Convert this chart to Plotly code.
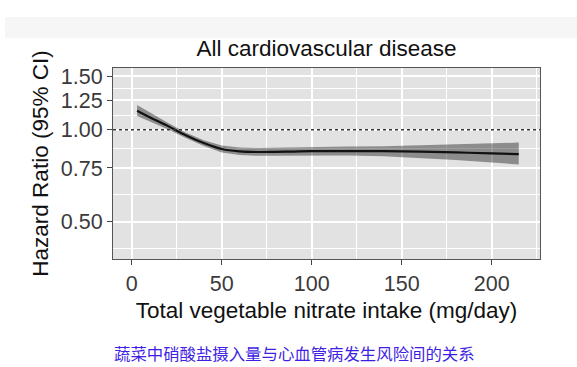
import plotly.graph_objects as go

# ---- data ----
intake = [3, 10, 20, 30, 40, 50, 60, 70, 80, 90, 100, 120, 140, 160, 180, 200, 215]
hr = [1.155, 1.10, 1.03, 0.96, 0.905, 0.865, 0.85, 0.846, 0.847, 0.849, 0.851,
      0.852, 0.851, 0.848, 0.843, 0.837, 0.832]
hr_upper = [1.206, 1.14, 1.055, 0.98, 0.925, 0.888, 0.875, 0.872, 0.873, 0.876,
            0.878, 0.881, 0.884, 0.889, 0.895, 0.902, 0.908]
hr_lower = [1.11, 1.065, 1.005, 0.94, 0.885, 0.843, 0.827, 0.822, 0.822, 0.823,
            0.825, 0.824, 0.82, 0.81, 0.797, 0.782, 0.77]

x_ticks = [0, 50, 100, 150, 200]
x_minor = [25, 75, 125, 175, 225]
y_ticks = [0.50, 0.75, 1.00, 1.25, 1.50]
y_ticktext = ["0.50", "0.75", "1.00", "1.25", "1.50"]
y_minor = [0.408, 0.612, 0.866, 1.118, 1.369]
ref_hr = 1.0

title_text = "All cardiovascular disease"
x_title = "Total vegetable nitrate intake (mg/day)"
y_title = "Hazard Ratio (95% CI)"
caption = "蔬菜中硝酸盐摄入量与心血管病发生风险间的关系"

W, H = 577, 367
ML, MR, MT, MB = 113, 37, 68, 108
PW, PH = W - ML - MR, H - MT - MB

def px_x(p):
    return (p - ML) / PW

def px_y(p):
    return (H - MB - p) / PH

fig = go.Figure()
fig.add_trace(go.Scatter(x=intake, y=hr_upper, mode="lines", line=dict(width=0),
                         showlegend=False, hoverinfo="skip"))
fig.add_trace(go.Scatter(x=intake, y=hr_lower, mode="lines", line=dict(width=0),
                         fill="tonexty", fillcolor="rgba(0,0,0,0.38)",
                         showlegend=False, hoverinfo="skip"))
fig.add_trace(go.Scatter(x=intake, y=hr, mode="lines",
                         line=dict(color="#111111", width=2.2, shape="spline"),
                         showlegend=False))

# light band at the very top of the picture
fig.add_shape(type="rect", xref="paper", yref="paper",
              x0=px_x(5), x1=px_x(577), y0=px_y(38), y1=px_y(17),
              fillcolor="#f6f6f6", line=dict(width=0), layer="below")
# reference line at HR = 1
fig.add_shape(type="line", xref="paper", yref="y", x0=0, x1=1, y0=ref_hr, y1=ref_hr,
              line=dict(color="#333333", width=1.6, dash="dot"), layer="above")

tick_font = dict(family="Liberation Sans, Arial, sans-serif", size=21.5, color="#3a3a3a")
title_font = dict(family="Liberation Sans, Arial, sans-serif", size=22.5, color="#111111")

fig.update_layout(
    width=W, height=H,
    margin=dict(l=ML, r=MR, t=MT, b=MB, pad=0),
    paper_bgcolor="white", plot_bgcolor="#e2e2e2",
    title=dict(text=title_text, x=0.5, xref="paper", xanchor="center",
               y=1 - 48 / H, yref="container", yanchor="middle",
               font=dict(family="Liberation Sans, Arial, sans-serif", size=22.5, color="#111111")),
    xaxis=dict(range=[-10.4, 226.8], tickvals=x_ticks, ticks="outside", ticklen=5,
               tickwidth=1, tickcolor="#444444", showline=True, mirror=True,
               linecolor="#555555", linewidth=1, showgrid=True, gridcolor="white",
               gridwidth=2, zeroline=False, tickfont=tick_font,
               minor=dict(tickvals=x_minor, showgrid=True, gridcolor="white",
                          gridwidth=1, ticks=""),
               title=dict(text=x_title, font=title_font, standoff=7)),
    yaxis=dict(type="log", range=[-0.423, 0.2024], tickvals=y_ticks, ticktext=y_ticktext,
               ticks="outside", ticklen=5, tickwidth=1, tickcolor="#444444",
               showline=True, mirror=True, linecolor="#555555", linewidth=1,
               showgrid=True, gridcolor="white", gridwidth=2, zeroline=False,
               tickfont=tick_font,
               minor=dict(tickvals=y_minor, showgrid=True, gridcolor="white",
                          gridwidth=1, ticks=""),
               title=dict(text=y_title, font=title_font, standoff=5)),
    annotations=[dict(text=caption, xref="paper", yref="paper", x=px_x(112),
                      y=px_y(352.5), xanchor="left", yanchor="middle", showarrow=False,
                      font=dict(family="Noto Sans CJK SC", size=16.4, color="#3f1fe4"))],
)

fig.write_html("out.html", config={"displayModeBar": False},
               post_script="document.body.style.margin='0';document.body.style.overflow='hidden';")
